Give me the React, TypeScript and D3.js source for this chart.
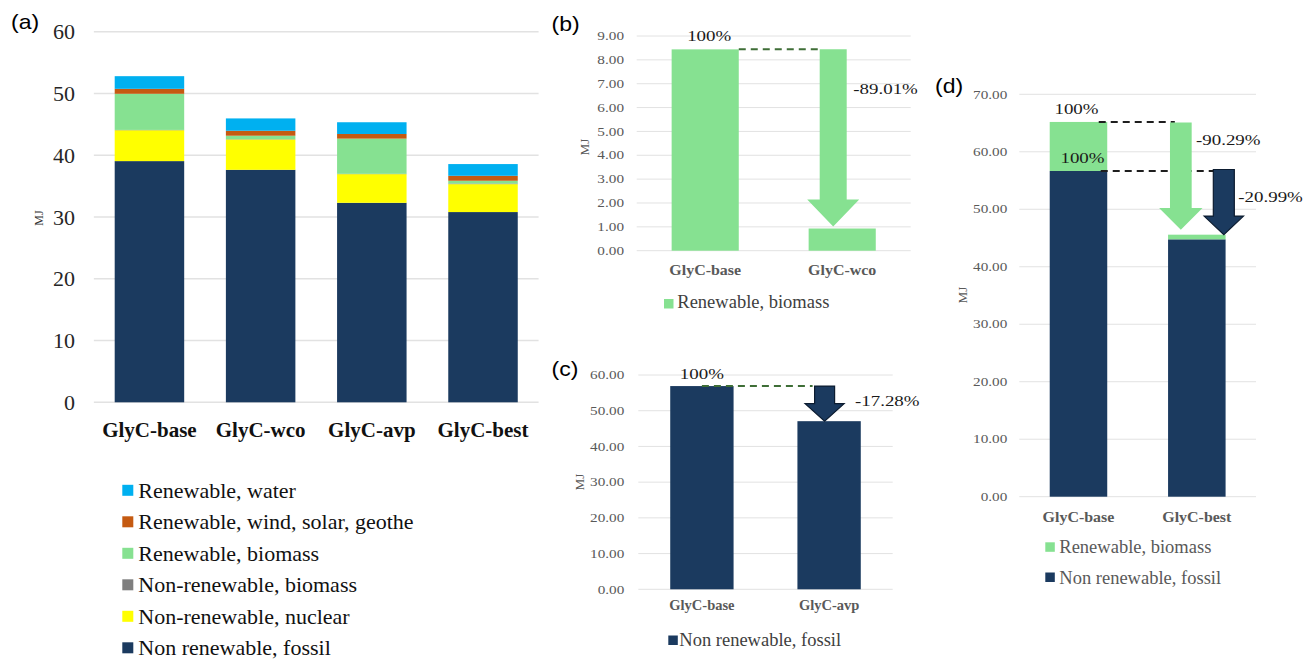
import React from "react";
import * as d3 from "d3";

// ---------- Data ----------
const categoriesA = ["GlyC-base", "GlyC-wco", "GlyC-avp", "GlyC-best"];
const fossilA = [39.05, 37.64, 32.3, 30.8];
const nuclearA = [5.0, 4.92, 4.64, 4.52];
const nrBiomassA = [0.05, 0.05, 0.05, 0.1];
const rBiomassA = [5.85, 0.55, 5.7, 0.45];
const windA = [0.8, 0.8, 0.75, 0.8];
const waterA = [2.05, 2.0, 1.9, 1.9];
const ticksA = [0, 10, 20, 30, 40, 50, 60];

const seriesNamesA = [
  "Non renewable, fossil",
  "Non-renewable, nuclear",
  "Non-renewable, biomass",
  "Renewable, biomass",
  "Renewable, wind, solar, geothe",
  "Renewable, water",
];

const categoriesB = ["GlyC-base", "GlyC-wco"];
const rBiomassB = [8.44, 0.93];
const ticksB = [0, 1, 2, 3, 4, 5, 6, 7, 8, 9];
const changeB = "-89.01%";

const categoriesC = ["GlyC-base", "GlyC-avp"];
const fossilC = [56.9, 47.07];
const ticksC = [0, 10, 20, 30, 40, 50, 60];
const changeC = "-17.28%";

const categoriesD = ["GlyC-base", "GlyC-best"];
const fossilD = [56.66, 44.77];
const rBiomassD = [8.53, 0.81];
const ticksD = [0, 10, 20, 30, 40, 50, 60, 70];
const changeDBio = "-90.29%";
const changeDFossil = "-20.99%";

// ---------- Styles ----------
const C = {
  fossil: "#1b3a5f",
  nuclear: "#FFFF00",
  nrBiomass: "#7F7F7F",
  rBiomass: "#86E191",
  wind: "#C55A11",
  water: "#00B0F0",
  grid: "#e2e2e2",
  dashGreen: "#3f6e37",
  dashBlack: "#1e1e1e",
  arrowOutline: "#0c1c30",
};
const seriesColorsA = [C.fossil, C.nuclear, C.nrBiomass, C.rBiomass, C.wind, C.water];
const SERIF = "'Liberation Serif', 'Times New Roman', serif";
const SANS = "'Liberation Sans', Arial, sans-serif";

type TProps = {
  x: number;
  y: number;
  sx?: number;
  size: number;
  anchor?: "start" | "middle" | "end";
  weight?: string | number;
  fill?: string;
  family?: string;
  children: React.ReactNode;
  rotate?: number;
};
function T({ x, y, sx = 1, size, anchor = "start", weight = "normal", fill = "#000", family = SERIF, children, rotate }: TProps) {
  const tr = rotate ? `translate(${x},${y}) rotate(${rotate}) scale(${sx},1)` : `translate(${x},${y}) scale(${sx},1)`;
  return (
    <text transform={tr} fontSize={size} textAnchor={anchor} fontWeight={weight} fill={fill} fontFamily={family}>
      {children}
    </text>
  );
}

function arrowPath(cx: number, top: number, tip: number, shaftW: number, headW: number, headH: number) {
  const hs = tip - headH;
  const p = d3.path();
  p.moveTo(cx - shaftW / 2, top);
  p.lineTo(cx + shaftW / 2, top);
  p.lineTo(cx + shaftW / 2, hs);
  p.lineTo(cx + headW / 2, hs);
  p.lineTo(cx, tip);
  p.lineTo(cx - headW / 2, hs);
  p.lineTo(cx - shaftW / 2, hs);
  p.closePath();
  return p.toString();
}

function Grid({ y, ticks, x0, x1, width = 1 }: { y: d3.ScaleLinear<number, number>; ticks: number[]; x0: number; x1: number; width?: number }) {
  return (
    <g>
      {ticks.map((t) => (
        <line key={t} x1={x0} x2={x1} y1={y(t)} y2={y(t)} stroke={C.grid} strokeWidth={width} />
      ))}
    </g>
  );
}

function PanelA() {
  const x = d3.scaleBand<string>().domain(categoriesA).range([93.85, 538.6]).paddingInner(0.375).paddingOuter(0.1875);
  const y = d3.scaleLinear().domain([0, 60]).range([402.3, 31.7]);
  const rows = categoriesA.map((c, i) => ({
    cat: c,
    vals: [fossilA[i], nuclearA[i], nrBiomassA[i], rBiomassA[i], windA[i], waterA[i]],
  }));
  const stack = d3.stack<any>().keys(d3.range(6).map(String)).value((d, k) => d.vals[+k]);
  const stacked = stack(rows);
  const fmt = d3.format("d");
  const legendOrder = [5, 4, 3, 2, 1, 0];
  return (
    <g>
      <Grid y={y} ticks={ticksA} x0={93.85} x1={538.6} width={1.5} />
      {ticksA.map((t) => (
        <T key={t} x={75} y={y(t) + 7.5} size={22} anchor="end" fill="#262626">
          {fmt(t)}
        </T>
      ))}
      {stacked.map((s, si) => (
        <g key={si} fill={seriesColorsA[si]}>
          {s.map((d, i) => (
            <rect key={i} x={x(rows[i].cat)} width={x.bandwidth()} y={y(d[1])} height={Math.max(0, y(d[0]) - y(d[1]))} />
          ))}
        </g>
      ))}
      {categoriesA.map((c) => (
        <T key={c} x={(x(c) as number) + x.bandwidth() / 2} y={437} size={21} anchor="middle" weight="bold" fill="#111">
          {c}
        </T>
      ))}
      <T x={43} y={218} size={12} anchor="middle" fill="#333" rotate={-90}>
        MJ
      </T>
      <T x={11} y={29} size={20} family={SANS} sx={1.15}>
        (a)
      </T>
      {legendOrder.map((si, j) => {
        const cy = 490.3 + j * 31.5;
        return (
          <g key={si}>
            <rect x={122.3} y={cy - 5.5} width={11} height={11} fill={seriesColorsA[si]} />
            <T x={138.3} y={cy + 7.5} size={22} fill="#111">
              {seriesNamesA[si]}
            </T>
          </g>
        );
      })}
    </g>
  );
}

const TICK_SX = 1.27;
const PCT_SX = 1.22;

function PanelB() {
  const x0 = 636.7, x1 = 910.7;
  const x = d3.scaleBand<string>().domain(categoriesB).range([x0, x1]).paddingInner(0.51).paddingOuter(0.255);
  const y = d3.scaleLinear().domain([0, 9]).range([250.7, 36]);
  const fmt = d3.format(".2f");
  const cx2 = (x(categoriesB[1]) as number) + x.bandwidth() / 2 - 9;
  const shaftW = 27;
  return (
    <g>
      <Grid y={y} ticks={ticksB} x0={x0} x1={x1} />
      {ticksB.map((t) => (
        <T key={t} x={624} y={y(t) + 4.2} size={12} anchor="end" fill="#595959" sx={TICK_SX}>
          {fmt(t)}
        </T>
      ))}
      {categoriesB.map((c, i) => (
        <rect key={c} x={x(c)} width={x.bandwidth()} y={y(rBiomassB[i])} height={y(0) - y(rBiomassB[i])} fill={C.rBiomass} />
      ))}
      <line x1={(x(categoriesB[0]) as number) + x.bandwidth()} x2={cx2 - shaftW / 2} y1={y(rBiomassB[0])} y2={y(rBiomassB[0])} stroke={C.dashGreen} strokeWidth={2} strokeDasharray="7,5" />
      <path d={arrowPath(cx2, y(rBiomassB[0]), y(rBiomassB[1]) - 2, shaftW, 52, 27)} fill={C.rBiomass} />
      <T x={(x(categoriesB[0]) as number) + x.bandwidth() / 2 + 4} y={41} size={15.5} anchor="middle" sx={PCT_SX} fill="#1a1a1a">
        100%
      </T>
      <T x={853.3} y={93.5} size={15.5} sx={PCT_SX} fill="#1a1a1a">
        {changeB}
      </T>
      {categoriesB.map((c) => (
        <T key={c} x={(x(c) as number) + x.bandwidth() / 2} y={275} size={14.5} anchor="middle" weight="bold" fill="#595959" sx={1.1}>
          {c}
        </T>
      ))}
      <T x={588.5} y={147} size={12} anchor="middle" fill="#595959" rotate={-90} sx={1.1}>
        MJ
      </T>
      <T x={551.5} y={31} size={20} family={SANS} sx={1.15}>
        (b)
      </T>
      <rect x={664} y={299} width={9.5} height={9.5} fill={C.rBiomass} />
      <T x={677.3} y={308.3} size={18.5} fill="#404040">
        Renewable, biomass
      </T>
    </g>
  );
}

function PanelC() {
  const x0 = 638.3, x1 = 892.7;
  const x = d3.scaleBand<string>().domain(categoriesC).range([x0, x1]).paddingInner(0.502).paddingOuter(0.251);
  const y = d3.scaleLinear().domain([0, 60]).range([589.3, 375]);
  const fmt = d3.format(".2f");
  const cx2 = (x(categoriesC[1]) as number) + x.bandwidth() / 2 - 4.5;
  const shaftW = 20;
  return (
    <g>
      <Grid y={y} ticks={ticksC} x0={x0} x1={x1} />
      {ticksC.map((t) => (
        <T key={t} x={624.3} y={y(t) + 4.2} size={12} anchor="end" fill="#595959" sx={TICK_SX}>
          {fmt(t)}
        </T>
      ))}
      {categoriesC.map((c, i) => (
        <rect key={c} x={x(c)} width={x.bandwidth()} y={y(fossilC[i])} height={y(0) - y(fossilC[i])} fill={C.fossil} />
      ))}
      <line x1={(x(categoriesC[0]) as number) + x.bandwidth() / 2} x2={cx2 - shaftW / 2 - 2} y1={y(fossilC[0])} y2={y(fossilC[0])} stroke={C.dashGreen} strokeWidth={2} strokeDasharray="7,5" />
      <path d={arrowPath(cx2, y(fossilC[0]), y(fossilC[1]), shaftW, 39, 17.5)} fill={C.fossil} stroke={C.arrowOutline} strokeWidth={1.2} />
      <T x={(x(categoriesC[0]) as number) + x.bandwidth() / 2} y={378.5} size={15.5} anchor="middle" sx={PCT_SX} fill="#1a1a1a">
        100%
      </T>
      <T x={855} y={405.5} size={15.5} sx={PCT_SX} fill="#1a1a1a">
        {changeC}
      </T>
      {categoriesC.map((c) => (
        <T key={c} x={(x(c) as number) + x.bandwidth() / 2} y={610} size={14.5} anchor="middle" weight="bold" fill="#595959" sx={1.0}>
          {c}
        </T>
      ))}
      <T x={583.5} y={482} size={12} anchor="middle" fill="#595959" rotate={-90} sx={1.1}>
        MJ
      </T>
      <T x={551.5} y={376} size={20} family={SANS} sx={1.15}>
        (c)
      </T>
      <rect x={668.3} y={635.5} width={9.5} height={9.5} fill={C.fossil} />
      <T x={679.3} y={646} size={18.5} fill="#404040">
        Non renewable, fossil
      </T>
    </g>
  );
}

function PanelD() {
  const x0 = 1019.3, x1 = 1256;
  const x = d3.scaleBand<string>().domain(categoriesD).range([x0, x1]).paddingInner(0.514).paddingOuter(0.257);
  const y = d3.scaleLinear().domain([0, 70]).range([496.7, 94.3]);
  const fmt = d3.format(".2f");
  const bx1 = x(categoriesD[0]) as number;
  const c2 = (x(categoriesD[1]) as number) + x.bandwidth() / 2;
  const greenCx = c2 - 16;
  const navyCx = c2 + 27;
  const totalD = fossilD.map((f, i) => f + rBiomassD[i]);
  return (
    <g>
      <Grid y={y} ticks={ticksD} x0={x0} x1={x1} />
      {ticksD.map((t) => (
        <T key={t} x={1007.3} y={y(t) + 4.2} size={12} anchor="end" fill="#595959" sx={TICK_SX}>
          {fmt(t)}
        </T>
      ))}
      {categoriesD.map((c, i) => (
        <g key={c}>
          <rect x={x(c)} width={x.bandwidth()} y={y(fossilD[i])} height={y(0) - y(fossilD[i])} fill={C.fossil} />
          <rect x={x(c)} width={x.bandwidth()} y={y(totalD[i])} height={y(fossilD[i]) - y(totalD[i])} fill={C.rBiomass} />
        </g>
      ))}
      <line x1={bx1 + x.bandwidth() - 8.5} x2={greenCx - 6} y1={y(totalD[0])} y2={y(totalD[0])} stroke={C.dashBlack} strokeWidth={2} strokeDasharray="7,5" />
      <line x1={bx1 + x.bandwidth() - 6.5} x2={navyCx - 2} y1={y(fossilD[0])} y2={y(fossilD[0])} stroke={C.dashBlack} strokeWidth={2} strokeDasharray="7,5" />
      <path d={arrowPath(greenCx, y(totalD[0]) + 0.5, y(totalD[1]) - 5, 21.7, 43.4, 21.6)} fill={C.rBiomass} />
      <path d={arrowPath(navyCx, y(fossilD[0]) - 1.5, y(totalD[1]), 21, 39.3, 18.6)} fill={C.fossil} stroke={C.arrowOutline} strokeWidth={1.2} />
      <T x={bx1 + x.bandwidth() / 2 - 2} y={114} size={15.5} anchor="middle" sx={PCT_SX} fill="#1a1a1a">
        100%
      </T>
      <T x={bx1 + x.bandwidth() / 2 + 4} y={163.3} size={15.5} anchor="middle" sx={PCT_SX} fill="#1a1a1a">
        100%
      </T>
      <T x={1196} y={145} size={15.5} sx={PCT_SX} fill="#1a1a1a">
        {changeDBio}
      </T>
      <T x={1238.3} y={201.7} size={15.5} sx={PCT_SX} fill="#1a1a1a">
        {changeDFossil}
      </T>
      {categoriesD.map((c) => (
        <T key={c} x={(x(c) as number) + x.bandwidth() / 2} y={521.7} size={14.5} anchor="middle" weight="bold" fill="#595959" sx={1.1}>
          {c}
        </T>
      ))}
      <T x={966.5} y={295} size={12} anchor="middle" fill="#595959" rotate={-90} sx={1.1}>
        MJ
      </T>
      <T x={935} y={93} size={20} family={SANS} sx={1.15}>
        (d)
      </T>
      <rect x={1045.3} y={542.3} width={9.5} height={9.5} fill={C.rBiomass} />
      <T x={1059.3} y={553.3} size={18.5} fill="#595959">
        Renewable, biomass
      </T>
      <rect x={1045.3} y={572.5} width={9.5} height={9.5} fill={C.fossil} />
      <T x={1059.3} y={583.5} size={18.5} fill="#595959">
        Non renewable, fossil
      </T>
    </g>
  );
}

export default function App() {
  return (
    <div style={{ position: "absolute", left: 0, top: 0, width: 1304, height: 659, background: "#fff" }}>
      <svg width={1304} height={659} style={{ display: "block" }}>
        <rect x={0} y={0} width={1304} height={659} fill="#fff" />
        <PanelA />
        <PanelB />
        <PanelC />
        <PanelD />
      </svg>
    </div>
  );
}
